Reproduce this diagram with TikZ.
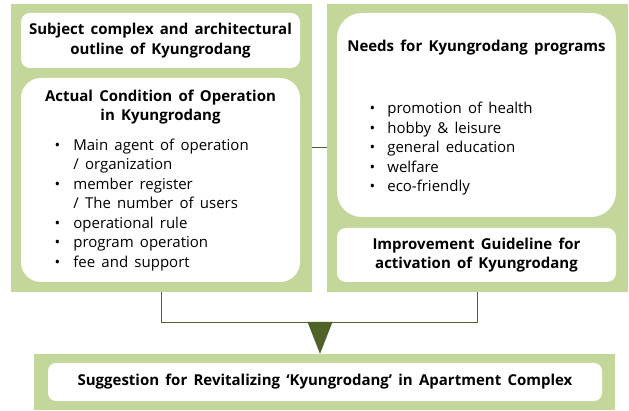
\documentclass[tikz,border=0pt]{standalone}
\usepackage{fontspec}
\setmainfont{Open Sans}[WordSpace=1.6]
\usetikzlibrary{positioning}
\definecolor{panelgreen}{RGB}{196,215,155}
\definecolor{linegreen}{RGB}{79,98,40}
\newcommand{\Kbig}[0]{\fontsize{15}{19.5}\selectfont}

\begin{document}
\begin{tikzpicture}[x=1pt,y=-1pt, font=\Kbig,
  panel/.style={fill=panelgreen, inner sep=0pt},
  card/.style={fill=white, rounded corners=#1, inner sep=0pt},
  card/.default=9pt,
  title/.style={font=\bfseries\Kbig, align=center, inner sep=0pt},
  list/.style={anchor=north west, inner sep=0pt},
  conn/.style={draw=linegreen, line width=1pt}]
\useasboundingbox (0,0) rectangle (629,411);
% green panels
\node at (161.5,148) [panel, minimum width=301pt, minimum height=288pt] (lpanel) {};
\node at (477.5,148) [panel, minimum width=301pt, minimum height=288pt] (rpanel) {};
\node at (324.5,382) [panel, minimum width=581pt, minimum height=56pt] (bpanel) {};
% white cards
\node at (160.5,40.5) [card, minimum width=279pt, minimum height=55pt] (subj) {};
\node at (160.5,180) [card=20pt, minimum width=279pt, minimum height=204pt] (cond) {};
\node at (476.5,115) [card=25pt, minimum width=279pt, minimum height=204pt] (needs) {};
\node at (476.5,255) [card, minimum width=279pt, minimum height=54pt] (guide) {};
\node at (325,382) [card=8pt, minimum width=554pt, minimum height=38pt] (sugg) {};
% texts
\node at (subj) [title] {Subject complex and architectural\\outline of Kyungrodang};
\node at (160.5,107) [title] (condtitle) {Actual Condition of Operation\\in Kyungrodang};
\node at (54.5,136.4) [list] (condlist) {\begin{tabular}{@{}l@{\hspace{13pt}}l@{}}
  \textbullet & Main agent of operation\\
              & / organization\\
  \textbullet & member register\\
              & / The number of users\\
  \textbullet & operational rule\\
  \textbullet & program operation\\
  \textbullet & fee and support
  \end{tabular}};
\node at (476.5,48) [title] (needstitle) {Needs for Kyungrodang programs};
\node at (369.5,99.9) [list] (needslist) {\begin{tabular}{@{}l@{\hspace{12pt}}l@{}}
  \textbullet & promotion of health\\
  \textbullet & hobby \& leisure\\
  \textbullet & general education\\
  \textbullet & welfare\\
  \textbullet & eco-friendly
  \end{tabular}};
\node at (guide) [title] {Improvement Guideline for\\activation of Kyungrodang};
\node at (sugg) [title] {Suggestion for Revitalizing ‘Kyungrodang’ in Apartment Complex};
% connectors
\draw[conn] (lpanel) -- (rpanel);
\draw[conn] (lpanel.south) -- ++(0,30) -| (rpanel.south);
\coordinate (join) at (320,322);
\fill[linegreen] (join) ++(-12.5,0) -- ++(25,0) -- (join |- bpanel.north) -- cycle;
\end{tikzpicture}
\end{document}
